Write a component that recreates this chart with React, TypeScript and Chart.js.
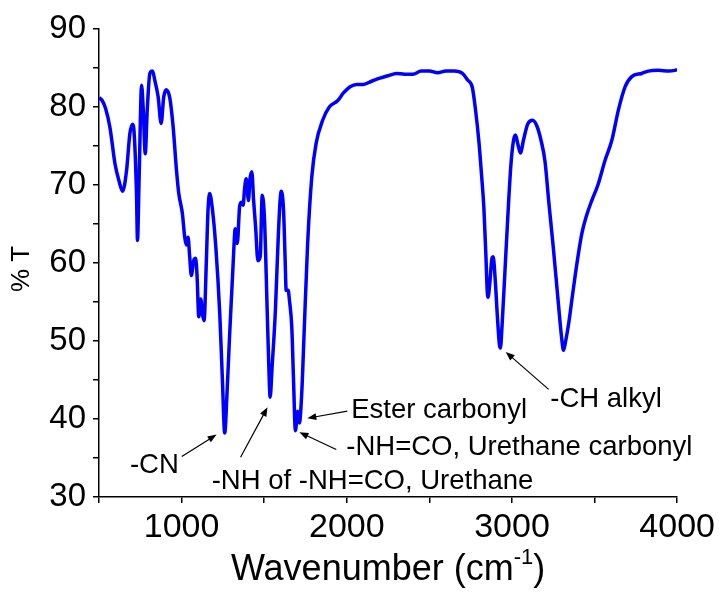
import { useEffect, useRef } from "react";
import { Chart, registerables } from "chart.js";

Chart.register(...registerables);

// Spectrum (wavenumber in cm-1, %T)
const wavenumbers = [
  500, 520, 540, 566, 597, 620, 643, 667, 687, 703, 713, 727, 733, 743, 758, 768, 780, 792, 808, 824,
  838, 858, 876, 892, 908, 929, 949, 969, 983, 1005, 1019, 1029, 1039, 1049, 1059, 1073, 1085, 1094, 1104, 1116,
  1126, 1136, 1150, 1160, 1170, 1187, 1207, 1231, 1247, 1261, 1275, 1291, 1311, 1325, 1337, 1351, 1361, 1372, 1382, 1391,
  1405, 1413, 1425, 1436, 1448, 1462, 1476, 1488, 1502, 1518, 1528, 1536, 1548, 1568, 1586, 1603, 1617, 1627, 1633, 1645,
  1653, 1667, 1677, 1689, 1703, 1713, 1727, 1743, 1763, 1788, 1814, 1854, 1894, 1944, 1980, 2020, 2060, 2100, 2150, 2200,
  2250, 2300, 2350, 2400, 2450, 2500, 2550, 2600, 2650, 2700, 2730, 2760, 2780, 2800, 2815, 2830, 2842, 2850, 2855, 2866,
  2878, 2886, 2898, 2912, 2924, 2930, 2940, 2960, 2980, 2995, 3010, 3021, 3035, 3051, 3070, 3095, 3125, 3150, 3175, 3200,
  3222, 3250, 3280, 3300, 3312, 3325, 3345, 3362, 3390, 3423, 3450, 3483, 3520, 3564, 3604, 3644, 3685, 3725, 3785, 3825,
  3886, 3950, 3986, 4000,
];
const transmittance = [
  81.2, 80.8, 79.8, 77.4, 72.7, 70.6, 69.2, 71.9, 76.6, 77.8, 76.6, 68.9, 62.9, 71.0, 82.8, 79.6, 74.0, 79.6, 84.3, 84.6,
  83.4, 81.3, 77.9, 81.3, 82.2, 81.1, 77.4, 71.9, 68.9, 66.3, 63.3, 62.3, 63.3, 60.8, 58.4, 60.3, 60.6, 58.2, 53.1, 55.4,
  53.5, 52.6, 60.3, 66.8, 68.9, 66.8, 62.1, 53.5, 45.0, 38.2, 43.3, 50.9, 59.5, 64.4, 62.5, 67.2, 67.8, 67.4, 69.7, 70.8,
  68.0, 70.6, 71.7, 68.0, 64.6, 60.3, 60.8, 68.7, 65.5, 54.0, 46.7, 42.8, 46.7, 54.0, 63.8, 69.2, 66.8, 60.3, 56.5, 56.5,
  55.2, 51.8, 45.4, 38.5, 41.0, 39.5, 43.2, 51.8, 62.5, 71.0, 75.3, 78.3, 80.0, 80.8, 81.8, 82.6, 82.9, 82.9, 83.3, 83.7,
  84.0, 84.3, 84.2, 84.2, 84.6, 84.6, 84.4, 84.6, 84.6, 84.3, 83.5, 82.5, 79.5, 75.5, 71.5, 67.0, 61.0, 56.5, 55.6, 57.5,
  60.5, 60.8, 58.0, 53.0, 49.5, 49.1, 52.0, 60.0, 68.0, 73.0, 75.8, 76.4, 75.3, 74.1, 75.8, 77.8, 78.3, 77.6, 75.8, 73.0,
  68.0, 62.0, 55.0, 50.5, 48.8, 50.0, 52.5, 55.2, 59.5, 63.8, 66.0, 68.0, 70.0, 73.2, 75.7, 79.6, 82.6, 83.9, 84.3, 84.6,
  84.7, 84.6, 84.7, 84.8,
];

// Axis ranges / ticks
const xMin = 500;
const xMax = 4000;
const xStep = 500;
const xLabelEvery = 1000;
const yMin = 30;
const yMax = 90;
const yStep = 5;
const yLabelEvery = 10;

const xTitleMain = "Wavenumber (cm";
const xTitleSup = "-1";
const xTitleEnd = ")";
const yTitle = "% T";

// Annotations (positions in data units)
const labelTexts = ["-CN", "-NH of -NH=CO, Urethane", "-NH=CO, Urethane carbonyl", "Ester carbonyl", "-CH alkyl"];
const labelWn = [687, 1182, 1997, 2027, 3232];
const labelT = [34.0, 32.0, 36.4, 41.1, 42.5];
const arrowFromWn = [1001, 1357, 1936, 2003, 3222];
const arrowFromT = [35.2, 35.1, 36.1, 41.0, 43.8];
const arrowToWn = [1212, 1520, 1713, 1761, 2962];
const arrowToT = [38.0, 41.5, 38.3, 40.1, 48.6];

const FONT = "'Liberation Sans', Arial, sans-serif";

const decorPlugin = {
  id: "decor",
  afterDraw(chart: any) {
    const { ctx, chartArea, scales } = chart;
    const xs = scales.x;
    const ys = scales.y;
    ctx.save();
    ctx.fillStyle = "#000";
    ctx.strokeStyle = "#000";

    // annotations
    ctx.font = `27.5px ${FONT}`;
    ctx.textAlign = "left";
    ctx.textBaseline = "middle";
    for (let i = 0; i < labelTexts.length; i++) {
      ctx.fillText(labelTexts[i], xs.getPixelForValue(labelWn[i]), ys.getPixelForValue(labelT[i]));
      const x1 = xs.getPixelForValue(arrowFromWn[i]);
      const y1 = ys.getPixelForValue(arrowFromT[i]);
      const x2 = xs.getPixelForValue(arrowToWn[i]);
      const y2 = ys.getPixelForValue(arrowToT[i]);
      const ang = Math.atan2(y2 - y1, x2 - x1);
      const hl = 9;
      const hw = 3.5;
      ctx.lineWidth = 1.2;
      ctx.beginPath();
      ctx.moveTo(x1, y1);
      ctx.lineTo(x2 - Math.cos(ang) * hl * 0.8, y2 - Math.sin(ang) * hl * 0.8);
      ctx.stroke();
      ctx.beginPath();
      ctx.moveTo(x2, y2);
      ctx.lineTo(
        x2 - Math.cos(ang) * hl - Math.sin(ang) * hw,
        y2 - Math.sin(ang) * hl + Math.cos(ang) * hw
      );
      ctx.lineTo(
        x2 - Math.cos(ang) * hl + Math.sin(ang) * hw,
        y2 - Math.sin(ang) * hl - Math.cos(ang) * hw
      );
      ctx.closePath();
      ctx.fill();
    }

    // x title with superscript
    const big = 36;
    const small = 22;
    ctx.textBaseline = "alphabetic";
    ctx.font = `${big}px ${FONT}`;
    const w1 = ctx.measureText(xTitleMain).width;
    const w3 = ctx.measureText(xTitleEnd).width;
    ctx.font = `${small}px ${FONT}`;
    const w2 = ctx.measureText(xTitleSup).width;
    const total = w1 + w2 + w3;
    const cx = (chartArea.left + chartArea.right) / 2;
    let x = cx - total / 2;
    const base = 580;
    ctx.font = `${big}px ${FONT}`;
    ctx.fillText(xTitleMain, x, base);
    x += w1;
    ctx.font = `${small}px ${FONT}`;
    ctx.fillText(xTitleSup, x, base - 16);
    x += w2;
    ctx.font = `${big}px ${FONT}`;
    ctx.fillText(xTitleEnd, x, base);

    // y title
    ctx.translate(22, (chartArea.top + chartArea.bottom) / 2 + 6);
    ctx.rotate(-Math.PI / 2);
    ctx.textAlign = "center";
    ctx.textBaseline = "middle";
    ctx.font = `26px ${FONT}`;
    ctx.fillText(yTitle, 0, 0);
    ctx.restore();
  },
};

export default function App() {
  const ref = useRef<HTMLCanvasElement | null>(null);

  useEffect(() => {
    const canvas = ref.current;
    if (!canvas) return;
    const points = wavenumbers.map((w, i) => ({ x: w, y: transmittance[i] }));
    const chart = new Chart(canvas, {
      type: "line",
      data: {
        datasets: [
          {
            data: points,
            borderColor: "#0000ff",
            borderWidth: 3.5,
            pointRadius: 0,
            cubicInterpolationMode: "monotone",
            fill: false,
          },
        ],
      },
      options: {
        responsive: false,
        animation: false,
        maintainAspectRatio: false,
        layout: { padding: { left: 0, top: 29, right: 41, bottom: 0 } },
        plugins: { legend: { display: false }, tooltip: { enabled: false }, title: { display: false } },
        scales: {
          x: {
            type: "linear",
            min: xMin,
            max: xMax,
            afterFit: (s: any) => {
              s.height = 95;
            },
            ticks: {
              stepSize: xStep,
              autoSkip: false,
              maxRotation: 0,
              padding: 4,
              color: "#000",
              font: { family: FONT, size: 34 },
              callback: (v: any) => (Number(v) % xLabelEvery === 0 ? String(v) : ""),
            },
            grid: { drawOnChartArea: false, drawTicks: true, tickLength: 6, color: "#000", lineWidth: 1.5 },
            border: { display: true, color: "#000", width: 1.5 },
          },
          y: {
            min: yMin,
            max: yMax,
            afterFit: (s: any) => {
              s.width = 99;
            },
            ticks: {
              stepSize: yStep,
              autoSkip: false,
              padding: 7,
              color: "#000",
              font: { family: FONT, size: 33 },
              callback: (v: any) => (Number(v) % yLabelEvery === 0 ? String(v) : ""),
            },
            grid: { drawOnChartArea: false, drawTicks: true, tickLength: 6, color: "#000", lineWidth: 1.5 },
            border: { display: true, color: "#000", width: 1.5 },
          },
        },
      },
      plugins: [decorPlugin],
    });
    return () => chart.destroy();
  }, []);

  return (
    <div style={{ position: "absolute", left: 0, top: 0, width: 719, height: 592, background: "#fff" }}>
      <canvas ref={ref} width={719} height={592} style={{ display: "block" }} />
    </div>
  );
}
